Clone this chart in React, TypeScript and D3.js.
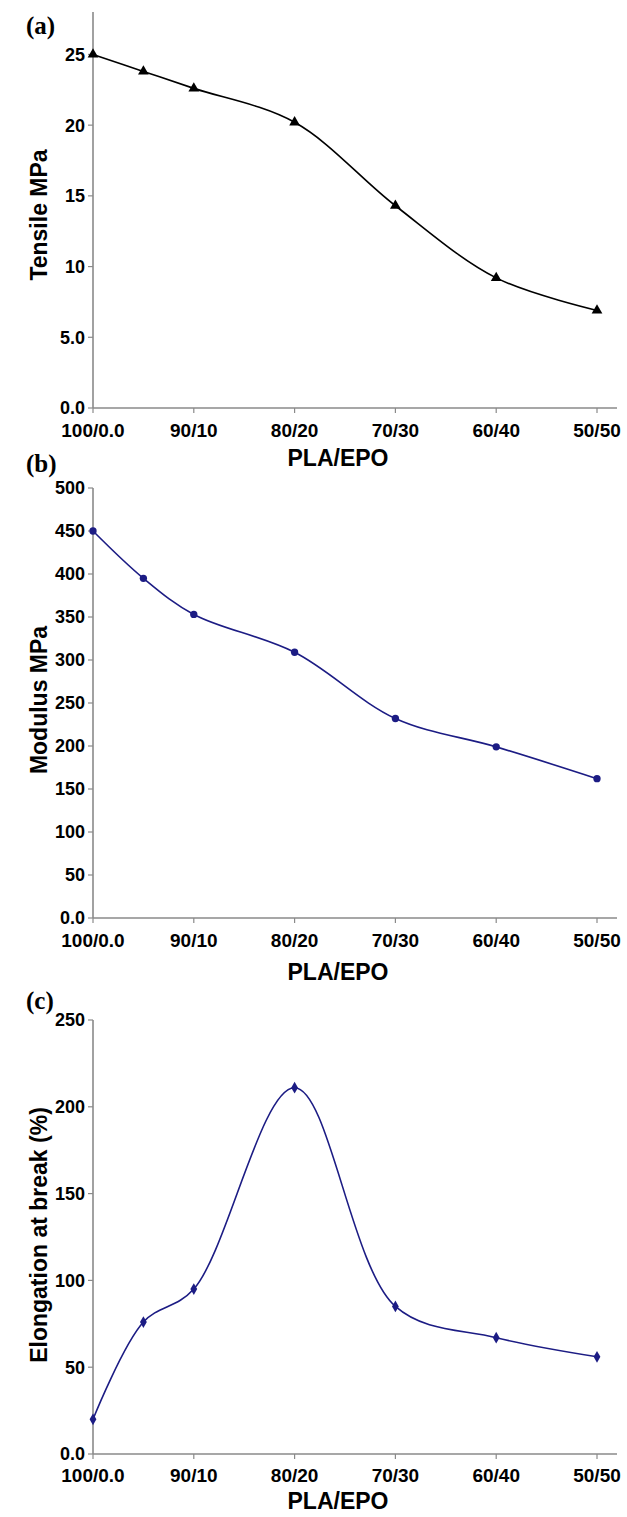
import React from "react";
import * as d3 from "d3";

// EPO content (%) of each blend
const epo = [0, 5, 10, 20, 30, 40, 50];
const tensile = [25.0, 23.8, 22.6, 20.2, 14.3, 9.2, 6.9];
const modulus = [450, 395, 353, 309, 232, 199, 162];
const elongation = [20, 76, 95, 211, 85, 67, 56];

const xTickValues = [0, 10, 20, 30, 40, 50];
const xTickLabels = ["100/0.0", "90/10", "80/20", "70/30", "60/40", "50/50"];

const aTicks = [0, 5, 10, 15, 20, 25];
const aTickLabels = ["0.0", "5.0", "10", "15", "20", "25"];
const bTicks = [0, 50, 100, 150, 200, 250, 300, 350, 400, 450, 500];
const bTickLabels = ["0.0", "50", "100", "150", "200", "250", "300", "350", "400", "450", "500"];
const cTicks = [0, 50, 100, 150, 200, 250];
const cTickLabels = ["0.0", "50", "100", "150", "200", "250"];

const SANS = "'Liberation Sans', Arial, sans-serif";
const SERIF = "'Liberation Serif', 'Times New Roman', serif";
const AXIS = "#8a8a8a";
const NAVY = "#1c1c84";

const x = d3.scaleLinear().domain([0, 50]).range([93, 597]);
const xAxisEnd = 617;

type PanelProps = {
  letter: string;
  letterY: number;
  values: number[];
  yDomain: [number, number];
  yRange: [number, number];
  ticks: number[];
  tickLabels: string[];
  title: string;
  titleY: number;
  xLabelY: number;
  xTitleY: number;
  color: string;
  marker: "triangle" | "circle" | "diamond";
};

function Panel(p: PanelProps) {
  const y = d3.scaleLinear().domain(p.yDomain).range(p.yRange);
  const line = d3
    .line<number>()
    .x((_, i) => x(epo[i]))
    .y((v) => y(v))
    .curve(d3.curveCatmullRom.alpha(0.5));
  const y0 = y(0);
  const symType =
    p.marker === "triangle" ? d3.symbolTriangle : p.marker === "circle" ? d3.symbolCircle : d3.symbolDiamond;
  const symSize = p.marker === "triangle" ? 50 : p.marker === "circle" ? 42 : 40;
  const sym = d3.symbol().type(symType).size(symSize)() as string;
  return (
    <g>
      <text x={26} y={p.letterY} fontFamily={SERIF} fontWeight="bold" fontSize={25}>
        {p.letter}
      </text>
      {/* y axis */}
      <line x1={93} x2={93} y1={p.yRange[1]} y2={y0} stroke={AXIS} strokeWidth={1.6} />
      {p.ticks.map((t, i) => (
        <g key={t}>
          <line x1={88} x2={93} y1={y(t)} y2={y(t)} stroke={AXIS} strokeWidth={1.2} />
          <text
            x={85}
            y={y(t)}
            dy="0.36em"
            textAnchor="end"
            fontFamily={SANS}
            fontWeight="bold"
            fontSize={18}
          >
            {p.tickLabels[i]}
          </text>
        </g>
      ))}
      {/* x axis */}
      <line x1={93} x2={xAxisEnd} y1={y0} y2={y0} stroke={AXIS} strokeWidth={1.6} />
      {xTickValues.map((t, i) => (
        <g key={t}>
          <line x1={x(t)} x2={x(t)} y1={y0} y2={y0 + 5} stroke={AXIS} strokeWidth={1.2} />
          <text
            x={x(t)}
            y={p.xLabelY}
            textAnchor="middle"
            fontFamily={SANS}
            fontWeight="bold"
            fontSize={19}
          >
            {xTickLabels[i]}
          </text>
        </g>
      ))}
      <text x={338} y={p.xTitleY} textAnchor="middle" fontFamily={SANS} fontWeight="bold" fontSize={23}>
        PLA/EPO
      </text>
      <text
        transform={`translate(47,${p.titleY}) rotate(-90)`}
        textAnchor="middle"
        fontFamily={SANS}
        fontWeight="bold"
        fontSize={23}
      >
        {p.title}
      </text>
      <path d={line(p.values) as string} fill="none" stroke={p.color} strokeWidth={1.6} />
      {p.values.map((v, i) => (
        <path key={i} d={sym} transform={`translate(${x(epo[i])},${y(v)})`} fill={p.color} />
      ))}
    </g>
  );
}

export default function App() {
  return (
    <svg
      width={627}
      height={1517}
      style={{ position: "absolute", left: 0, top: 0, background: "#fff" }}
    >
      <rect width={627} height={1517} fill="#fff" />
      <Panel
        letter="(a)"
        letterY={34}
        values={tensile}
        yDomain={[0, 28]}
        yRange={[408, 12]}
        ticks={aTicks}
        tickLabels={aTickLabels}
        title="Tensile MPa"
        titleY={215}
        xLabelY={437}
        xTitleY={466}
        color="#000"
        marker="triangle"
      />
      <Panel
        letter="(b)"
        letterY={472}
        values={modulus}
        yDomain={[0, 500]}
        yRange={[918, 488]}
        ticks={bTicks}
        tickLabels={bTickLabels}
        title="Modulus MPa"
        titleY={700}
        xLabelY={947}
        xTitleY={980}
        color={NAVY}
        marker="circle"
      />
      <Panel
        letter="(c)"
        letterY={1009}
        values={elongation}
        yDomain={[0, 250]}
        yRange={[1454, 1020]}
        ticks={cTicks}
        tickLabels={cTickLabels}
        title="Elongation at break (%)"
        titleY={1235}
        xLabelY={1482}
        xTitleY={1509}
        color={NAVY}
        marker="diamond"
      />
    </svg>
  );
}
